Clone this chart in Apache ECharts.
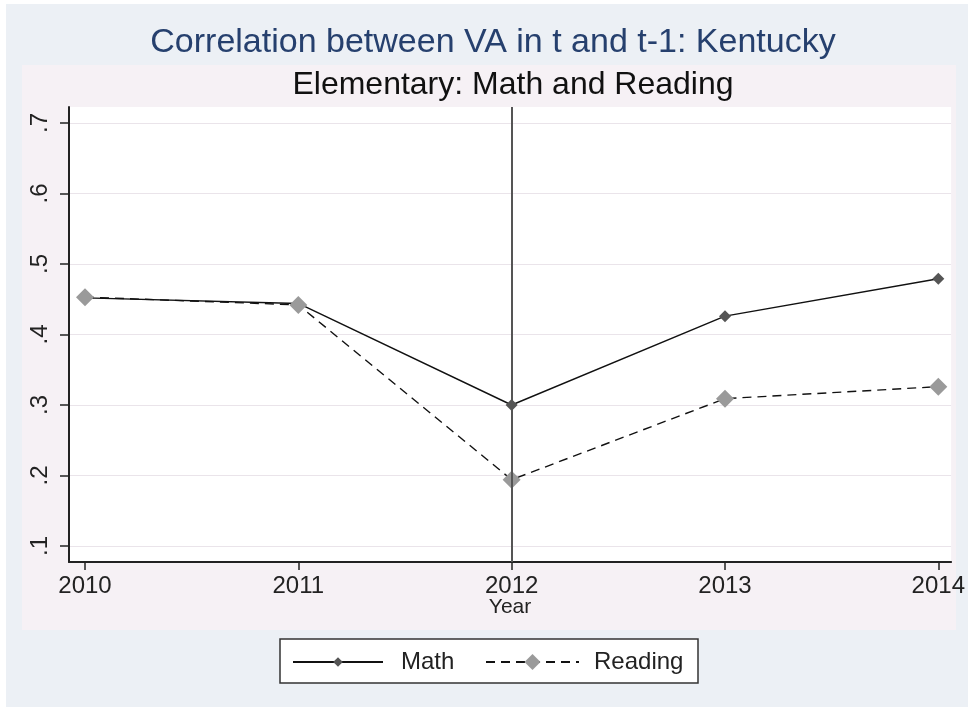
<!DOCTYPE html>
<html>
<head>
<meta charset="utf-8">
<script src="https://cdn.jsdelivr.net/npm/echarts@6/dist/echarts.min.js"></script>
<style>
  html, body { margin: 0; padding: 0; background: #ffffff; }
  #chart { width: 968px; height: 707px; }
</style>
</head>
<body>
<div id="chart"></div>
<script>
// Year-to-year correlation of value-added estimates, Kentucky elementary schools
const years = [2010, 2011, 2012, 2013, 2014];
const mathValues = [0.452, 0.444, 0.300, 0.426, 0.479];
const readingValues = [0.453, 0.442, 0.194, 0.309, 0.326];
const yTicks = [0.1, 0.2, 0.3, 0.4, 0.5, 0.6, 0.7];
const referenceYear = 2012;

const titleText = 'Correlation between VA in t and t-1: Kentucky';
const subtitleText = 'Elementary: Math and Reading';

const FONT = "'Liberation Sans', Arial, sans-serif";

const toPoints = (vals) => years.map((y, i) => [y, vals[i]]);

const chart = echarts.init(document.getElementById('chart'), null, { renderer: 'canvas' });

chart.setOption({
  animation: false,
  backgroundColor: '#ECF0F5',
  textStyle: { fontFamily: FONT },
  graphic: [
    // page margins, plot-region panel and legend frame
    { type: 'rect', z: -1, shape: { x: 0, y: 0, width: 968, height: 4 }, style: { fill: '#ffffff' } },
    { type: 'rect', z: -1, shape: { x: 0, y: 0, width: 6, height: 707 }, style: { fill: '#ffffff' } },
    { type: 'rect', z: -1, shape: { x: 22, y: 65, width: 934, height: 565 }, style: { fill: '#F6F1F5' } },
    { type: 'rect', z: -1, shape: { x: 280, y: 639, width: 418, height: 44 },
      style: { fill: '#ffffff', stroke: '#333333', lineWidth: 1.5 } },
    // titles
    { type: 'text', z: 5, x: 493, y: 43,
      style: { text: titleText, fontFamily: FONT, fontSize: 34, fill: '#26406E',
               align: 'center', verticalAlign: 'middle' } },
    { type: 'text', z: 5, x: 513, y: 85,
      style: { text: subtitleText, fontFamily: FONT, fontSize: 32, fill: '#111111',
               align: 'center', verticalAlign: 'middle' } }
  ],
  legend: [
    {
      data: ['Math'], left: 292, top: 650, padding: 0,
      itemWidth: 90, itemHeight: 12,
      textStyle: { fontFamily: FONT, fontSize: 24, color: '#222', padding: [0, 0, 0, 13] }
    },
    {
      data: ['Reading'], left: 485, top: 650, padding: 0,
      itemWidth: 93, itemHeight: 20,
      textStyle: { fontFamily: FONT, fontSize: 24, color: '#222', padding: [0, 0, 0, 10] }
    }
  ],
  grid: {
    left: 69, right: 12, top: 107, bottom: 145,
    show: true, backgroundColor: '#ffffff', borderWidth: 0
  },
  xAxis: {
    type: 'value',
    min: 2009.925, max: 2014.06,
    name: 'Year', nameLocation: 'middle', nameGap: 35, nameMoveOverlap: false,
    nameTextStyle: { fontFamily: FONT, fontSize: 21, color: '#222' },
    axisLine: { show: true, onZero: false, lineStyle: { color: '#222', width: 2 } },
    axisTick: { show: true, customValues: years, length: 8, lineStyle: { color: '#222', width: 1.5 } },
    axisLabel: {
      customValues: years, formatter: (v) => String(v),
      fontFamily: FONT, fontSize: 24, color: '#222', margin: 12
    },
    splitLine: { show: false }
  },
  yAxis: {
    type: 'value',
    min: 0.0773, max: 0.7227,
    axisLine: { show: true, onZero: false, lineStyle: { color: '#222', width: 2 } },
    axisTick: { show: true, customValues: yTicks, length: 9, lineStyle: { color: '#222', width: 1.5 } },
    axisLabel: {
      customValues: yTicks, rotate: 90,
      formatter: (v) => v.toFixed(1).replace(/^0/, ''),
      fontFamily: FONT, fontSize: 24, color: '#222', margin: 17
    },
    splitLine: { show: true, lineStyle: { color: '#EAE4EA', width: 1.2 } }
  },
  series: [
    {
      name: 'ref',
      type: 'line',
      data: [],
      z: 1,
      markLine: {
        silent: true,
        symbol: ['none', 'none'],
        label: { show: false },
        lineStyle: { color: '#555555', width: 2, type: 'solid' },
        data: [{ xAxis: referenceYear }]
      }
    },
    {
      name: 'Math',
      type: 'line',
      data: toPoints(mathValues),
      symbol: 'diamond',
      symbolSize: 12,
      itemStyle: { color: '#555555' },
      lineStyle: { color: '#111111', width: 1.4, type: 'solid' },
      z: 3
    },
    {
      name: 'Reading',
      type: 'line',
      data: toPoints(readingValues),
      symbol: 'diamond',
      symbolSize: 18,
      itemStyle: { color: '#9A9A9A' },
      lineStyle: { color: '#111111', width: 1.4, type: [9, 6] },
      z: 4
    }
  ]
});
</script>
</body>
</html>
